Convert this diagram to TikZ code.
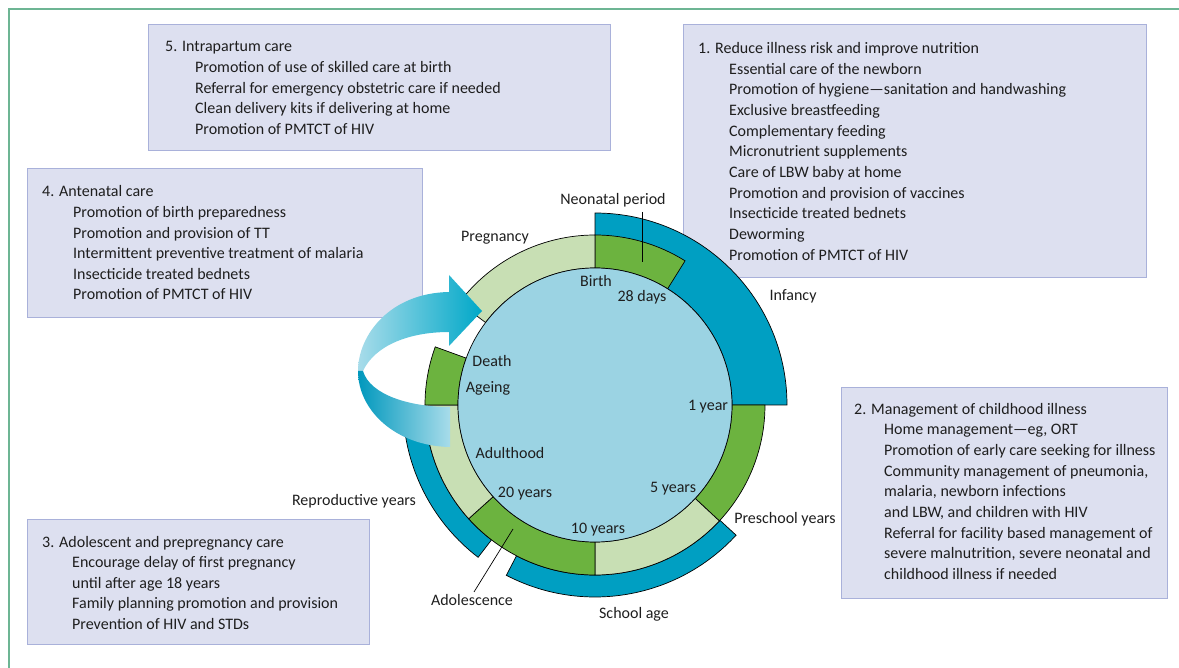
\documentclass[tikz,border=0pt]{standalone}
\usepackage{fontspec}
\setmainfont{Carlito}
\definecolor{lblue}{HTML}{9BD3E3}
\definecolor{lgreen}{HTML}{C8DFB4}
\definecolor{mgreen}{HTML}{6CB33F}
\definecolor{cteal}{HTML}{009FC2}
\definecolor{boxfill}{HTML}{DDE0F0}
\definecolor{boxline}{HTML}{A9B1DA}
\definecolor{framec}{HTML}{6DB594}
\definecolor{txt}{HTML}{1E1E1E}
\definecolor{apale}{HTML}{A8DCEA}
\definecolor{adark}{HTML}{00A8C8}
\definecolor{adeep}{HTML}{0098BD}
\definecolor{abright}{HTML}{00B0CD}
\newcommand\annsec[5]{%
  \filldraw[seg, fill=#1] (#2:#4pt) arc[start angle=#2, end angle=#3, radius=#4pt]
    -- (#3:#5pt) arc[start angle=#3, end angle=#2, radius=#5pt] -- cycle;}
\tikzset{
  seg/.style={draw=black, line width=0.7pt},
  panel/.style={draw=boxline, fill=boxfill, line width=1.1pt, anchor=north west, inner sep=0pt},
  txtfont/.style={font=\fontsize{16}{19}\selectfont, text=txt, inner sep=0pt},
  lbl/.style={txtfont, anchor=base},
  line/.style={txtfont, anchor=base west},
  leader/.style={draw=black, line width=0.7pt}
}
\begin{document}
\begin{tikzpicture}[x=1pt, y=-1pt]
\useasboundingbox (0,0) rectangle (1179,668);
% frame
\draw[framec, line width=1.5pt] (9,668) -- (9,9) -- (1179,9);

% panels
\node[panel, minimum width=462pt, minimum height=126pt] (box5) at (148,24) {};
\node[panel, minimum width=395pt, minimum height=149pt] (box4) at (27,168) {};
\node[panel, minimum width=463pt, minimum height=253pt] (box1) at (683,24) {};
\node[panel, minimum width=326pt, minimum height=211pt] (box2) at (841,387) {};
\node[panel, minimum width=342pt, minimum height=125pt] (box3) at (27,519) {};

% panel texts
\node[line] (h5) at (165,52) {5. Intrapartum care};
\foreach \t [count=\i] in {{Promotion of use of skilled care at birth},{Referral for emergency obstetric care if needed},{Clean delivery kits if delivering at home},{Promotion of PMTCT of HIV}}
  \node[line] (b5l\i) at (195,52+20.6*\i) {\t};

\node[line] (h4) at (42,197) {4. Antenatal care};
\foreach \t [count=\i] in {{Promotion of birth preparedness},{Promotion and provision of TT},{Intermittent preventive treatment of malaria},{Insecticide treated bednets},{Promotion of PMTCT of HIV}}
  \node[line] (b4l\i) at (73,197+20.6*\i) {\t};

\node[line] (h1) at (698,53.5) {1. Reduce illness risk and improve nutrition};
\foreach \t [count=\i] in {{Essential care of the newborn},{Promotion of hygiene—sanitation and handwashing},{Exclusive breastfeeding},{Complementary feeding},{Micronutrient supplements},{Care of LBW baby at home},{Promotion and provision of vaccines},{Insecticide treated bednets},{Deworming},{Promotion of PMTCT of HIV}}
  \node[line] (b1l\i) at (729,53.5+20.67*\i) {\t};

\node[line] (h2) at (854,414) {2. Management of childhood illness};
\foreach \t [count=\i] in {{Home management—eg, ORT},{Promotion of early care seeking for illness},{Community management of pneumonia,},{malaria, newborn infections},{and LBW, and children with HIV},{Referral for facility based management of},{severe malnutrition, severe neonatal and},{childhood illness if needed}}
  \node[line] (b2l\i) at (884,414+20.7*\i) {\t};

\node[line] (h3) at (42,547) {3. Adolescent and prepregnancy care};
\foreach \t [count=\i] in {{Encourage delay of first pregnancy},{until after age 18 years},{Family planning promotion and provision},{Prevention of HIV and STDs}}
  \node[line] (b3l\i) at (72,547+20.6*\i) {\t};

% life-cycle rings
\begin{scope}[shift={(595,405)}]
  % outer bands
  \annsec{cteal}{0}{90}{137}{192}
  \annsec{cteal}{242.5}{317.3}{170}{192}
  \annsec{cteal}{184}{232.5}{170}{192}
  % middle ring
  \annsec{mgreen}{58}{90}{137}{170}
  \annsec{mgreen}{-43}{0}{137}{170}
  \annsec{lgreen}{270}{317}{137}{170}
  \annsec{mgreen}{222}{270}{137}{170}
  \annsec{lgreen}{180}{222}{137}{170}
  \annsec{mgreen}{160}{180}{137}{170}
  \annsec{lgreen}{90}{143}{137}{170}
  % core
  \filldraw[seg, fill=lblue] (0,0) circle[radius=137pt];
\end{scope}

% curved arrow
\shade[left color=apale, middle color=abright!70!apale, right color=adark]
  (358,371) .. controls (358,335) and (390,293) .. (449,292) -- (449,275) -- (482,311)
  -- (449,346) -- (449,332) .. controls (410,332) and (375,345) .. (363,371) -- cycle;
\shade[left color=adeep, middle color=abright, right color=apale]
  (358,371) .. controls (358,410) and (395,446) .. (450,447) -- (450,407)
  .. controls (410,407) and (370,395) .. (363,371) -- cycle;

% leader lines
\coordinate (np1) at (642,212);
\coordinate (np2) at (642,262);
\draw[leader] (np1) -- (np2);
\coordinate (ad1) at (474,592);
\coordinate (ad2) at (513,529);
\draw[leader] (ad1) -- (ad2);

% labels
\node[lbl] (neo) at (613,205) {Neonatal period};
\node[lbl] (preg) at (495,242) {Pregnancy};
\node[lbl] (birth) at (596,287) {Birth};
\node[lbl] (d28) at (642,302) {28 days};
\node[lbl] (inf) at (793,301) {Infancy};
\node[lbl] (y1) at (708,411) {1 year};
\node[lbl] (death) at (492,367) {Death};
\node[lbl] (age) at (488,393) {Ageing};
\node[lbl] (adult) at (510,458) {Adulthood};
\node[lbl] (y20) at (525,497) {20 years};
\node[lbl] (y5) at (673,493) {5 years};
\node[lbl] (y10) at (598,533) {10 years};
\node[lbl] (repro) at (354,505) {Reproductive years};
\node[lbl] (presch) at (785,523) {Preschool years};
\node[lbl] (adol) at (472,605) {Adolescence};
\node[lbl] (school) at (634,618) {School age};
\end{tikzpicture}
\end{document}
